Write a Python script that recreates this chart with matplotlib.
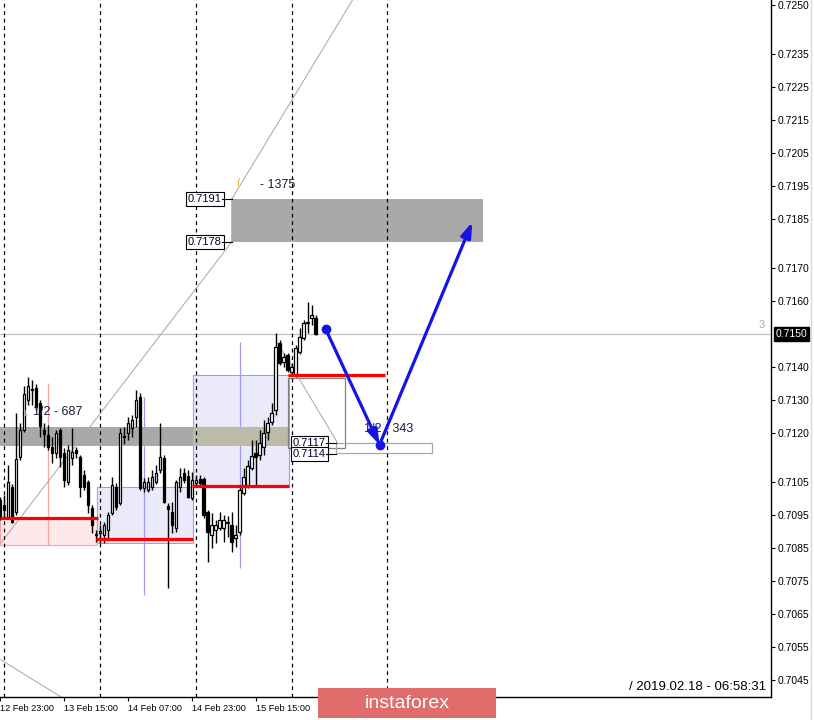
import matplotlib
matplotlib.use("Agg")
import matplotlib.pyplot as plt
from matplotlib.patches import Rectangle

plt.rcParams['font.family'] = ['Liberation Sans', 'DejaVu Sans']

# --- H1 candles, bar index 0 = 13 Feb 00:00 ---
bar_idx = list(range(-1, 79))
opens = [
    0.70996, 0.70981, 0.70945, 0.71036, 0.70960, 0.71127, 0.71209, 0.71300, 0.71334, 0.71337,
    0.71291, 0.71209, 0.71194, 0.71157, 0.71139, 0.71209, 0.71139, 0.71051, 0.71124, 0.71148,
    0.71127, 0.71073, 0.71051, 0.70972, 0.70890, 0.70896, 0.70890, 0.70905, 0.70957, 0.71036,
    0.70987, 0.71188, 0.71200, 0.71215, 0.71248, 0.71309, 0.71033, 0.71027, 0.71036, 0.71051,
    0.71088, 0.71124, 0.70978, 0.70960, 0.70911, 0.71036, 0.71079, 0.71070, 0.71002, 0.71048,
    0.71061, 0.71061, 0.70960, 0.70890, 0.70905, 0.70911, 0.70911, 0.70930, 0.70921, 0.70881,
    0.70899, 0.71018, 0.71042, 0.71094, 0.71139, 0.71133, 0.71157, 0.71203, 0.71233, 0.71270,
    0.71473, 0.71416, 0.71437, 0.71385, 0.71376, 0.71446, 0.71489, 0.71534, 0.71549, 0.71549,
]
highs = [
    0.71005, 0.71011, 0.71103, 0.71045, 0.71261, 0.71230, 0.71343, 0.71370, 0.71361, 0.71349,
    0.71300, 0.71230, 0.71224, 0.71188, 0.71209, 0.71215, 0.71154, 0.71163, 0.71215, 0.71157,
    0.71133, 0.71088, 0.71057, 0.70981, 0.70905, 0.70921, 0.70930, 0.70960, 0.71067, 0.71048,
    0.71215, 0.71218, 0.71248, 0.71254, 0.71331, 0.71322, 0.71063, 0.71067, 0.71088, 0.71103,
    0.71230, 0.71133, 0.70987, 0.70990, 0.71057, 0.71094, 0.71094, 0.71088, 0.71082, 0.71073,
    0.71073, 0.71067, 0.70966, 0.70957, 0.70936, 0.70960, 0.70951, 0.70948, 0.70960, 0.70921,
    0.71036, 0.71094, 0.71118, 0.71179, 0.71179, 0.71209, 0.71239, 0.71248, 0.71291, 0.71504,
    0.71482, 0.71443, 0.71443, 0.71413, 0.71467, 0.71519, 0.71543, 0.71598, 0.71589, 0.71558,
]
lows = [
    0.70936, 0.70942, 0.70939, 0.70927, 0.70951, 0.71118, 0.71203, 0.71285, 0.71285, 0.71270,
    0.71188, 0.71157, 0.71148, 0.71109, 0.71124, 0.71097, 0.71036, 0.71042, 0.71103, 0.71124,
    0.71005, 0.71027, 0.70957, 0.70896, 0.70869, 0.70866, 0.70866, 0.70881, 0.70951, 0.70966,
    0.70981, 0.71166, 0.71179, 0.71188, 0.71218, 0.71027, 0.71021, 0.71021, 0.71027, 0.71045,
    0.71079, 0.70987, 0.70729, 0.70896, 0.70899, 0.71021, 0.71048, 0.71002, 0.70996, 0.71039,
    0.71036, 0.70942, 0.70808, 0.70851, 0.70866, 0.70905, 0.70869, 0.70884, 0.70839, 0.70854,
    0.70890, 0.71011, 0.71033, 0.71088, 0.71036, 0.71118, 0.71133, 0.71179, 0.71224, 0.71254,
    0.71406, 0.71400, 0.71385, 0.71376, 0.71370, 0.71440, 0.71482, 0.71504, 0.71528, 0.71498,
]
closes = [
    0.70942, 0.70966, 0.71051, 0.70930, 0.71121, 0.71209, 0.71319, 0.71343, 0.71331, 0.71279,
    0.71221, 0.71197, 0.71157, 0.71139, 0.71200, 0.71127, 0.71057, 0.71148, 0.71142, 0.71139,
    0.71036, 0.71036, 0.70981, 0.70921, 0.70893, 0.70902, 0.70921, 0.70951, 0.71042, 0.70975,
    0.71200, 0.71191, 0.71230, 0.71239, 0.71300, 0.71033, 0.71051, 0.71051, 0.71067, 0.71079,
    0.71127, 0.70990, 0.70969, 0.70921, 0.71051, 0.71067, 0.71057, 0.71005, 0.71057, 0.71057,
    0.71048, 0.70951, 0.70899, 0.70921, 0.70921, 0.70936, 0.70936, 0.70927, 0.70869, 0.70890,
    0.71027, 0.71067, 0.71100, 0.71130, 0.71127, 0.71170, 0.71200, 0.71230, 0.71261, 0.71461,
    0.71413, 0.71431, 0.71391, 0.71400, 0.71458, 0.71492, 0.71534, 0.71537, 0.71558, 0.71500,
]

# axis labels
date_pos = [-1, 15, 31, 47, 63]
date_labels = ["12 Feb 23:00", "13 Feb 15:00", "14 Feb 07:00", "14 Feb 23:00", "15 Feb 15:00"]
day_seps = [0, 24, 48, 72, 96]
price_ticks = [0.7045, 0.7055, 0.7065, 0.7075, 0.7085, 0.7095, 0.7105, 0.7120, 0.7130,
               0.7140, 0.7160, 0.7170, 0.7185, 0.7195, 0.7205, 0.7215, 0.7225, 0.7235, 0.7250]
last_price = 0.7150

# drawn objects (bar index, price)
top_zone = (57, 120, 0.7178, 0.7191)
left_zone = (-1, 71.25, 0.71160, 0.71218)
pink_box = (-1, 23.25, 0.70860, 0.70942)
pink_vline = (11, 0.70860, 0.71352)
lav_boxes = [(23.25, 47.25, 0.70866, 0.71035), (47.25, 71.25, 0.71035, 0.71376)]
lav_vlines = [(35, 0.70708, 0.71310), (59, 0.70790, 0.71477)]
red_levels = [(-1, 23.5, 0.70942), (23, 47.25, 0.70879), (47, 71.25, 0.71039), (71, 95.25, 0.71376)]
grey_box1 = (71, 85.25, 0.71155, 0.71367)
grey_box2 = (83, 107.25, 0.7114, 0.7117)
trend_x = [-0.75, 57, 57, 87.25]
trend_y = [0.70866, 0.7178, 0.7191, 0.72515]
low_line_x = [-0.75, 18]
low_line_y = [0.70511, 0.70370]
fib_line_x = [68.5, 83.5]
fib_line_y = [0.71473, 0.71170]
arrow_x = [80.5, 94, 117.25]
arrow_y = [0.71516, 0.71164, 0.71841]

fig = plt.figure(figsize=(8.14, 7.2), dpi=100)
ax = fig.add_axes([0, 23 / 720, 771 / 814, 697 / 720])
ax.set_xlim(-0.75, 192)
ax.set_ylim(0.70398, 0.72515)

for s in ["left", "top"]:
    ax.spines[s].set_visible(False)
for s in ["right", "bottom"]:
    ax.spines[s].set_linewidth(1.0)
    ax.spines[s].set_color("black")

ax.yaxis.tick_right()
ax.set_yticks(price_ticks)
ax.set_yticklabels([f"{v:.4f}" for v in price_ticks])
ax.tick_params(axis="y", length=3, width=0.8, pad=2, labelsize=7.5, colors="black")
ax.set_xticks(date_pos)
ax.set_xticklabels(date_labels, ha="left")
ax.tick_params(axis="x", length=3, width=0.8, pad=2, labelsize=6.6)

# zones and boxes
x0, x1, y0, y1 = top_zone
ax.add_patch(Rectangle((x0, y0), x1 - x0, y1 - y0, fc="#A9A9A9", ec="none", zorder=2.5))
x0, x1, y0, y1 = left_zone
ax.add_patch(Rectangle((x0, y0), 47.25 - x0, y1 - y0, fc="#A9A9A9", ec="none", zorder=1.5))
ax.add_patch(Rectangle((47.25, y0), x1 - 47.25, y1 - y0, fc="#BBBBA7", ec="none", zorder=1.5))
x0, x1, y0, y1 = pink_box
ax.add_patch(Rectangle((x0, y0), x1 - x0, y1 - y0, fc="#FDE9E9", ec="#F4A6A6", lw=0.8, zorder=1))
ax.vlines(pink_vline[0], pink_vline[1], pink_vline[2], color="#F4A6A6", lw=0.9, zorder=1.2)
for x0, x1, y0, y1 in lav_boxes:
    ax.add_patch(Rectangle((x0, y0), x1 - x0, y1 - y0, fc="#EAEAFB", ec="#9C9CF0", lw=0.8, zorder=1))
for x, y0, y1 in lav_vlines:
    ax.vlines(x, y0, y1, color="#9C9CF0", lw=0.9, zorder=1.2)
for x0, x1, y0, y1, ec in [grey_box1 + ("#808080",), grey_box2 + ("#A8A8A8",)]:
    ax.add_patch(Rectangle((x0, y0), x1 - x0, y1 - y0, fc="none", ec=ec, lw=0.9, zorder=2))

# day separators, price line, trend lines
for s in day_seps:
    ax.axvline(s, color="black", lw=0.9, ls=(0, (3, 3)), zorder=2.6)
ax.axhline(last_price, color="#C0C0C0", lw=0.9, zorder=1.8)
for lx, ly in [(trend_x, trend_y), (low_line_x, low_line_y), (fib_line_x, fib_line_y)]:
    ax.plot(lx, ly, color="#ABABAB", lw=0.75, zorder=2)

# candles
ax.vlines(bar_idx, lows, highs, color="black", lw=1.0, zorder=3)
for x, o, c in zip(bar_idx, opens, closes):
    h = max(abs(c - o), 0.00002)
    ax.bar(x, h, bottom=min(o, c), width=0.62,
           color="white" if c >= o else "black", edgecolor="black", lw=0.9, zorder=3.5)

# red levels
for x0, x1, y in red_levels:
    ax.hlines(y, x0, x1, color="#FF0000", lw=2.3, zorder=5)

# price tags with connectors
tag_kw = dict(ha="right", va="center", fontsize=8, color="#000030", zorder=6,
              bbox=dict(boxstyle="square,pad=0.18", fc="white", ec="black", lw=0.8))
for xr, xc, y, txt in [(54.5, 57, 0.7191, "0.7191"), (54.5, 57, 0.7178, "0.7178"),
                       (80.5, 83, 0.7117, "0.7117"), (80.5, 83, 0.71136, "0.7114")]:
    ax.text(xr, y, txt, **tag_kw)
    ax.plot([xr, xc], [y, y], color="black", lw=0.8, zorder=6)

lbl_color = "#1A1A3A"
ax.text(64, 0.71953, "- 1375", fontsize=9, color=lbl_color, va="center", zorder=6)
ax.text(58.2, 0.71958, "ı'", fontsize=7, color="#E0A000", va="center", zorder=6)
ax.text(7.25, 0.71264, "1/2 - 687", fontsize=9, color=lbl_color, va="center", zorder=6)
ax.text(4.8, 0.71260, "ı.", fontsize=7, color="#E0A000", va="center", zorder=6)
ax.text(90, 0.71212, "1/2 - 343", fontsize=9, color=lbl_color, va="center", zorder=6)

# blue forecast arrows
blue = "#1414E6"
for k in range(2):
    ax.annotate("", xy=(arrow_x[k + 1], arrow_y[k + 1]), xytext=(arrow_x[k], arrow_y[k]),
                arrowprops=dict(arrowstyle="-|>,head_length=0.9,head_width=0.3", color=blue,
                                lw=2.3, shrinkA=0, shrinkB=0), zorder=7)
ax.plot(arrow_x[:2], arrow_y[:2], "o", color=blue, ms=6, zorder=7)

# current price tag
ax.text(1.006, last_price, f"{last_price:.4f}", transform=ax.get_yaxis_transform(),
        ha="left", va="center", color="white", fontsize=7.5,
        bbox=dict(boxstyle="square,pad=0.2", fc="black", ec="black"), clip_on=False)
ax.text(762 / 771, 372 / 697, "3", transform=ax.transAxes, color="#A8A8B8",
        fontsize=8, ha="center", va="center")

ax.text(0.9935, 10 / 697, "/ 2019.02.18 - 06:58:31", transform=ax.transAxes,
        ha="right", va="center", fontsize=9.5, color="black", zorder=8)

# watermark
fig.add_artist(Rectangle((318 / 814, 2 / 720), 178 / 814, 30 / 720,
                         transform=fig.transFigure, fc="#E06C6C", ec="none", zorder=10))
fig.text(407 / 814, 17 / 720, "instaforex", color="white", fontsize=14,
         ha="center", va="center", zorder=11)
fig.add_artist(plt.Line2D([811 / 814, 811 / 814], [0, 1], color="#DADADA", lw=1,
                          transform=fig.transFigure))

fig.savefig("out.png", dpi=100)
plt.close(fig)
